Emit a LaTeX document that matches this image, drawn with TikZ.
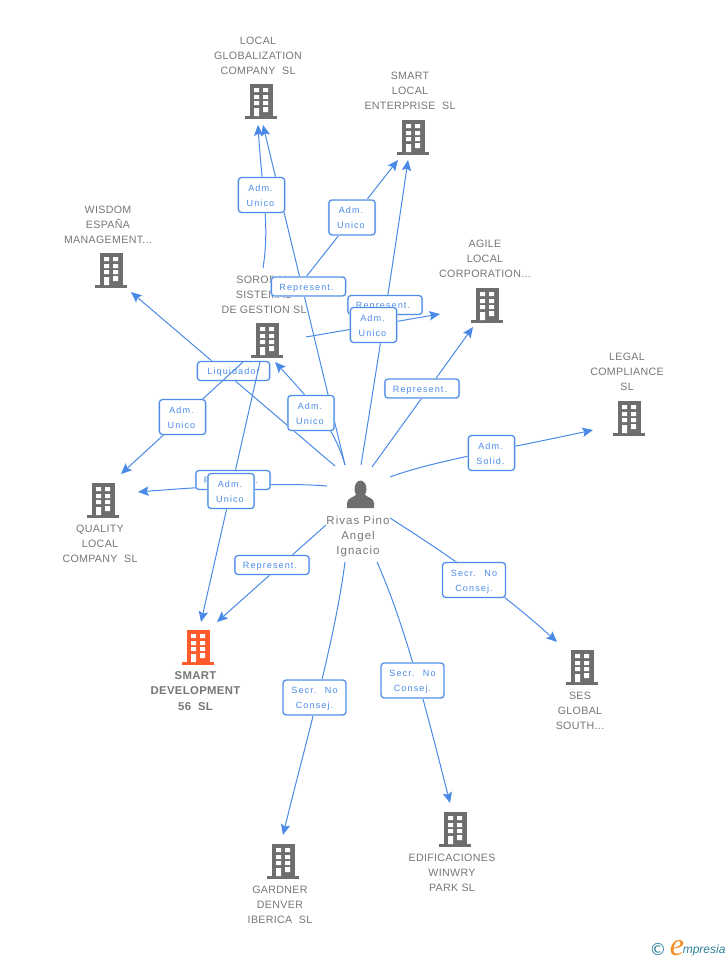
\documentclass[tikz,border=0pt]{standalone}
\usepackage{fontspec}
\setmainfont{Liberation Sans}
\newfontfamily\glab[LetterSpace=3]{Liberation Sans}
\newfontfamily\blab[LetterSpace=12]{Liberation Sans}
\newfontfamily\plab[LetterSpace=9]{Liberation Sans}
\newfontfamily\lgs{DejaVu Sans}
\newfontfamily\lgo{Liberation Serif}
\usetikzlibrary{arrows.meta}
\definecolor{edgeb}{HTML}{4A8AE6}
\definecolor{boxb}{HTML}{4C8CE8}
\definecolor{boxo}{HTML}{B9D2F5}
\definecolor{gtxt}{HTML}{767676}
\definecolor{gico}{HTML}{6E6E6E}
\definecolor{oico}{HTML}{FF5A2B}
\definecolor{teal1}{HTML}{2F7F9C}
\definecolor{oran}{HTML}{F58A1F}
% one line of a role label: lowered, with optional shift to the left
\newcommand\rl[2][0pt]{\raisebox{-2.8pt}[0pt][0pt]{#2\kern#1}}
\tikzset{
  x=0.75pt,y=-0.75pt,
  link/.style={draw=edgeb,line width=0.75pt,-{Stealth[length=8pt,width=7pt,inset=1.5pt]}},
  rolebox/.style={draw=boxb,fill=white,line width=0.8pt,rounded corners=2.2pt,
    preaction={draw=boxo,line width=1.6pt},inner sep=0pt,align=center,
    text=boxb,font=\blab\fontsize{6.8pt}{11.25pt}\selectfont},
  widebox/.style={minimum width=55.5pt,minimum height=14pt},
  tallbox/.style={minimum width=34.5pt,minimum height=26pt},
  liqbox/.style={minimum width=54pt,minimum height=14pt},
  orgname/.style={align=center,text=gtxt,inner sep=0pt,font=\glab\fontsize{8pt}{11.25pt}\selectfont},
  devname/.style={align=center,text=gtxt,inner sep=0pt,font=\glab\bfseries\fontsize{8.5pt}{11.6pt}\selectfont},
  persname/.style={align=center,text=gtxt,inner sep=0pt,font=\plab\fontsize{8.6pt}{11.25pt}\selectfont},
  pics/bld/.style={code={
    \fill[#1] (-11,-17) rectangle (12,15);
    \fill[#1] (-16,15) rectangle (16,17.5);
    \fill[white] (-7,-13) rectangle (-2,-9) (2,-13) rectangle (7,-9);
    \fill[white] (-7,-6) rectangle (-2,-2) (2,-6) rectangle (7,-2);
    \fill[white] (-7,0) rectangle (-2,4) (2,0) rectangle (7,4);
    \fill[white] (-7,7) rectangle (-2,15) (2,6) rectangle (7,11);
  }}
}
\begin{document}
\begin{tikzpicture}
\useasboundingbox (0,0) rectangle (728,960);
% hub and building anchors
\coordinate (pc) at (360,495);
\coordinate (bLocal) at (261,101);
\coordinate (bSmartL) at (413,137);
\coordinate (bWisdom) at (111,270);
\coordinate (bSoro) at (267,340);
\coordinate (bAgile) at (487,305);
\coordinate (bLegal) at (629,418);
\coordinate (bQual) at (103,500);
\coordinate (bDev) at (198,647);
\coordinate (bSes) at (582,667);
\coordinate (bEdif) at (455,829);
\coordinate (bGard) at (283,861);
% buildings
\foreach \c in {bLocal,bSmartL,bWisdom,bSoro,bAgile,bLegal,bQual,bSes,bEdif,bGard}
  \pic at (\c) {bld=gico};
\pic at (bDev) {bld=oico};
% person icon
\fill[gico] (360.5,489) ellipse (6 and 8.4);
\fill[gico] (347,508) -- (347,503) .. controls (347,498) and (353,498) .. (357,494)
  -- (364,494) .. controls (368,498) and (374,498) .. (374,503) -- (374,508) -- cycle;
% names
\node[orgname] (nLocal) at (258,56) {LOCAL\\GLOBALIZATION\\COMPANY~ SL};
\node[orgname] (nSmartL) at (410,91) {SMART\\LOCAL\\ENTERPRISE~ SL};
\node[orgname] (nWisdom) at (108,224.5) {WISDOM\\ESPAÑA\\MANAGEMENT...};
\node[orgname] (nSoro) at (264,295) {SOROBAN\\SISTEMAS\\DE GESTION SL};
\node[orgname] (nAgile) at (485,259) {AGILE\\LOCAL\\CORPORATION...};
\node[orgname] (nLegal) at (627,372) {LEGAL\\COMPLIANCE\\SL};
\node[orgname] (nQual) at (100,544) {QUALITY\\LOCAL\\COMPANY~ SL};
\node[devname] (nDev) at (195.5,691) {SMART\\DEVELOPMENT\\56~ SL};
\node[orgname] (nSes) at (580,711) {SES\\GLOBAL\\SOUTH...};
\node[orgname] (nEdif) at (452,873) {EDIFICACIONES\\WINWRY\\PARK SL};
\node[orgname] (nGard) at (280,905) {GARDNER\\DENVER\\IBERICA~ SL};
\node[persname] (nPers) at (358,537) {Rivas Pino\\Angel\\Ignacio};
% connector ends
\coordinate (s1) at (345,465); \coordinate (e1) at (263,125);
\coordinate (s2) at (263,268); \coordinate (e2) at (258,125);
\coordinate (s3) at (306,277); \coordinate (e3) at (398,160);
\coordinate (s4) at (361,465); \coordinate (e4) at (408,160);
\coordinate (s5) at (306,337); \coordinate (e5) at (440,314);
\coordinate (s6) at (372,467); \coordinate (e6) at (473,327);
\coordinate (s7) at (390,477); \coordinate (e7) at (593,430);
\coordinate (s8) at (345,465); \coordinate (e8) at (275,362);
\coordinate (s9) at (335,466); \coordinate (e9) at (131,292);
\coordinate (s10) at (243,362); \coordinate (e10) at (121,474);
\coordinate (s11) at (327,486); \coordinate (e11) at (138,492);
\coordinate (s12) at (260,362); \coordinate (e12) at (201,622);
\coordinate (s13) at (326,525); \coordinate (e13) at (217,622);
\coordinate (s14) at (345,562); \coordinate (e14) at (283,835);
\coordinate (s15) at (377,562); \coordinate (e15) at (450,803);
\coordinate (s16) at (390,518); \coordinate (e16) at (557,642);
% connectors under their labels
\draw[link] (s9) -- (e9);
\node[rolebox,liqbox] (lLiq) at (233.5,371) {\rl{Liquidador}};
\draw[link] (s1) -- (e1);
\draw[link] (s2) .. controls (270,225) and (262,190) .. (e2);
\draw[link] (s3) -- (e3);
\draw[link] (s4) .. controls (375,380) and (395,250) .. (e4);
\draw[link] (s5) -- (e5);
\draw[link] (s6) -- (e6);
\draw[link] (s7) .. controls (430,462) and (500,450) .. (e7);
\draw[link] (s8) .. controls (335,430) and (315,405) .. (e8);
\draw[link] (s10) -- (e10);
\draw[link] (s11) .. controls (280,482) and (200,487) .. (e11);
\draw[link] (s12) -- (e12);
\draw[link] (s13) -- (e13);
\draw[link] (s14) .. controls (335,640) and (305,745) .. (e14);
\draw[link] (s15) .. controls (405,625) and (425,705) .. (e15);
\draw[link] (s16) .. controls (440,550) and (500,590) .. (e16);
% labels
\node[rolebox,tallbox] (l2) at (261.5,195) {\rl[1.5pt]{Adm.}\\\rl[1.5pt]{Unico}};
\node[rolebox,tallbox] (l3) at (352,217.5) {\rl[1.5pt]{Adm.}\\\rl[1.5pt]{Unico}};
\node[rolebox,widebox] (l1) at (308.5,286.5) {\rl[3pt]{Represent.}};
\node[rolebox,widebox] (l4) at (385,305) {\rl[3pt]{Represent.}};
\node[rolebox,tallbox] (l5) at (373.5,325) {\rl[1.5pt]{Adm.}\\\rl[1.5pt]{Unico}};
\node[rolebox,widebox] (l6) at (422,388.5) {\rl[3pt]{Represent.}};
\node[rolebox,tallbox] (l7) at (491.5,453) {\rl[1.5pt]{Adm.}\\\rl[1.5pt]{Solid.}};
\node[rolebox,tallbox] (l8) at (311,413) {\rl[1.5pt]{Adm.}\\\rl[1.5pt]{Unico}};
\node[rolebox,tallbox] (l10) at (182.5,417) {\rl[1.5pt]{Adm.}\\\rl[1.5pt]{Unico}};
\node[rolebox,widebox] (l11) at (233,480) {\rl[3pt]{Represent.}};
\node[rolebox,tallbox] (l12) at (231,491) {\rl[1.5pt]{Adm.}\\\rl[1.5pt]{Unico}};
\node[rolebox,widebox] (l13) at (272,565) {\rl[3pt]{Represent.}};
\node[rolebox,tallbox,minimum width=47pt] (l14) at (314.5,697.5) {\rl{Secr.~ No}\\\rl{Consej.}};
\node[rolebox,tallbox,minimum width=47pt] (l15) at (412.5,680.5) {\rl{Secr.~ No}\\\rl{Consej.}};
\node[rolebox,tallbox,minimum width=47pt] (l16) at (474,580) {\rl{Secr.~ No}\\\rl{Consej.}};
% logo
\node[inner sep=0pt,text=teal1,font=\lgs\fontsize{12.5pt}{14pt}\selectfont] (logoC) at (658,949) {©};
\node[inner sep=0pt,anchor=base,text=oran,font=\lgo\itshape\fontsize{24pt}{24pt}\selectfont] (logoE) at (677,955) {e};
\node[inner sep=0pt,anchor=base west,text=teal1,font=\itshape\fontsize{9pt}{12pt}\selectfont] (logoT) at (682.5,953) {mpresia};
\end{tikzpicture}
\end{document}
